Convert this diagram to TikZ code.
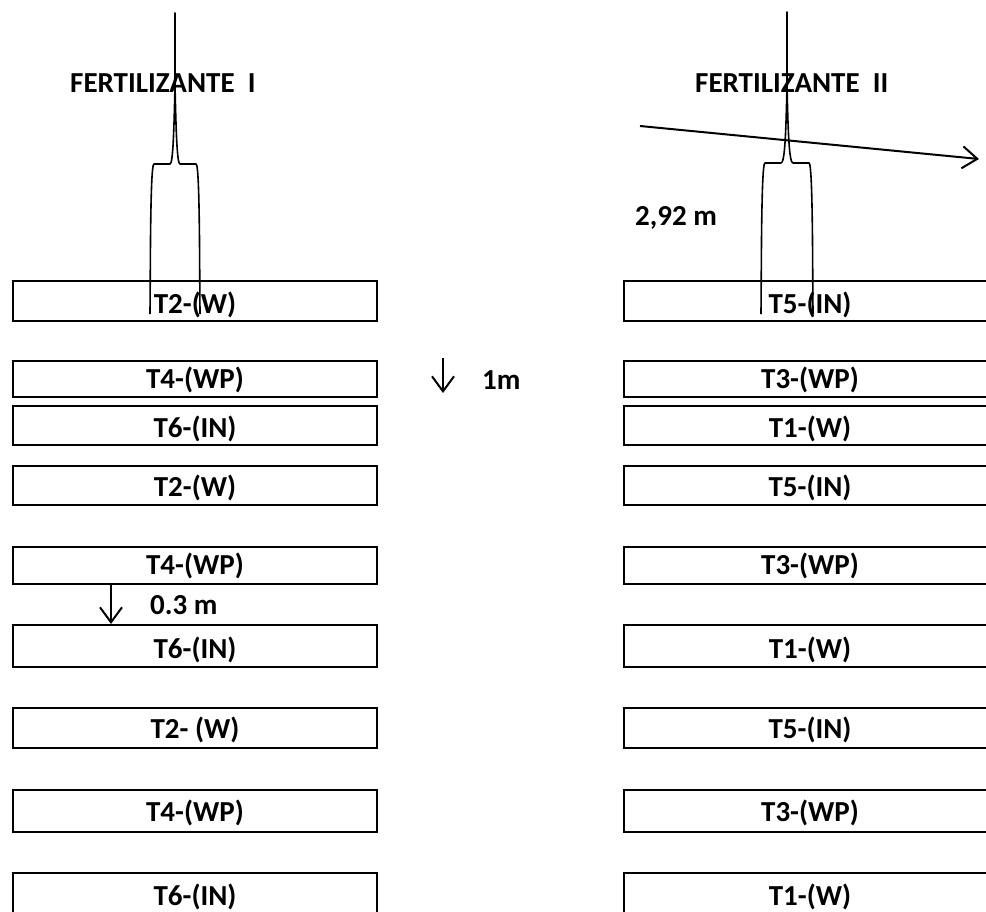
\documentclass[tikz,border=0pt]{standalone}
\usepackage{fontspec}
\setmainfont{Carlito}
\usetikzlibrary{arrows.meta}
\tikzset{
  rowbox/.style={draw=black,line width=1.8pt},
  rowtext/.style={font=\fontsize{29}{33}\selectfont\bfseries,inner sep=0pt,anchor=center},
  headtext/.style={font=\fontsize{29}{33}\selectfont\bfseries,inner sep=0pt,anchor=west},
  spike/.style={draw=black,line width=1.6pt,line join=round},
  pointer/.style={draw=black,line width=2pt,-{Straight Barb[length=15pt,width=22pt,line width=2pt]}}
}
\begin{document}
\begin{tikzpicture}[x=1pt,y=-1pt]
\useasboundingbox (0,0) rectangle (986,911);
\clip (0,0) rectangle (986,911);
% boxes
\foreach \ya/\yb in {281/321,361/397,406/445,466/505,547/584,625/667,708/748,790/832,873/930}{
  \draw[rowbox] (13,\ya) rectangle (377,\yb);
  \draw[rowbox] (624,\ya) rectangle (1000,\yb);
}
\node[rowtext] (l1) at (195,305) {T2-(W)};
\node[rowtext] (l2) at (195,380) {T4-(WP)};
\node[rowtext] (l3) at (195,429) {T6-(IN)};
\node[rowtext] (l4) at (195,488) {T2-(W)};
\node[rowtext] (l5) at (195,566) {T4-(WP)};
\node[rowtext] (l6) at (195,650) {T6-(IN)};
\node[rowtext] (l7) at (195,730) {T2- (W)};
\node[rowtext] (l8) at (195,813) {T4-(WP)};
\node[rowtext] (l9) at (195,897) {T6-(IN)};
\node[rowtext] (r1) at (810,305) {T5-(IN)};
\node[rowtext] (r2) at (810,380) {T3-(WP)};
\node[rowtext] (r3) at (810,429) {T1-(W)};
\node[rowtext] (r4) at (810,488) {T5-(IN)};
\node[rowtext] (r5) at (810,566) {T3-(WP)};
\node[rowtext] (r6) at (810,650) {T1-(W)};
\node[rowtext] (r7) at (810,730) {T5-(IN)};
\node[rowtext] (r8) at (810,813) {T3-(WP)};
\node[rowtext] (r9) at (810,897) {T1-(W)};
% headings and dimensions
\node[headtext] (h1) at (70,83) {FERTILIZANTE\ \ I};
\node[headtext] (h2) at (695,83) {FERTILIZANTE\ \ II};
\node[headtext] (d1) at (635,218) {2,92 m};
\node[headtext] (d2) at (482,380) {1m};
\node[headtext] (d3) at (150,605) {0.3 m};
% spikes
\draw[spike] (150,314) -- (150.5,240) .. controls (151,190) and (152,164) .. (154,164) -- (170,164)
  .. controls (173,164) and (174,130) .. (175,85) -- (175,13)
  -- (175,85) .. controls (176,130) and (177,164) .. (180,164) -- (196,164)
  .. controls (198,164) and (199,190) .. (199.5,240) -- (200,314);
\draw[spike] (761,314) -- (761.5,240) .. controls (762,190) and (763,163) .. (765,163) -- (781,163)
  .. controls (785,163) and (786,130) .. (787,85) -- (787,12)
  -- (787,85) .. controls (788,130) and (789,163) .. (793,163) -- (809,163)
  .. controls (811,163) and (812,190) .. (812.5,240) -- (813,314);
% arrows
\coordinate (a1s) at (640,126); \coordinate (a1e) at (979,159);
\coordinate (a2s) at (443,358); \coordinate (a2e) at (443,393);
\coordinate (a3s) at (111,585); \coordinate (a3e) at (111,624);
\draw[pointer] (a1s) -- (a1e);
\draw[pointer] (a2s) -- (a2e);
\draw[pointer] (a3s) -- (a3e);
\end{tikzpicture}
\end{document}
